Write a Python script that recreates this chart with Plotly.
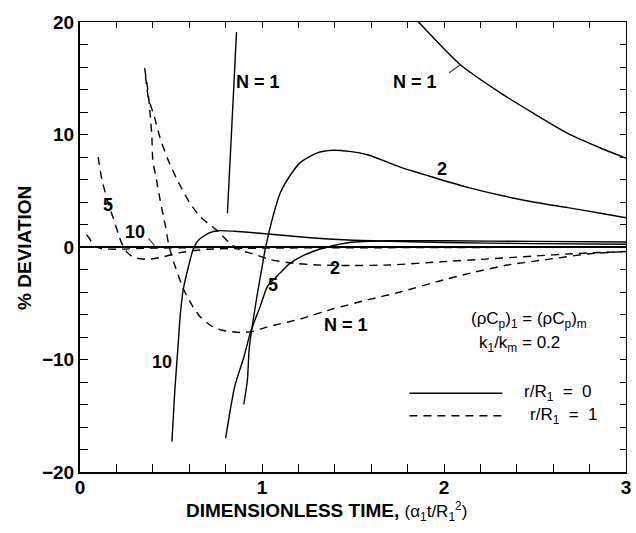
import plotly.graph_objects as go

# ---------------- data ----------------
# r/R1 = 0  (solid)
n1_solid_a_x = [0.81, 0.835, 0.86]
n1_solid_a_y = [3.0, 11.0, 19.1]
n1_solid_b_x = [1.86, 2.09, 2.31, 2.49, 2.68, 2.86, 3.0]
n1_solid_b_y = [20.0, 16.2, 13.7, 11.9, 10.1, 8.8, 7.9]

n2_solid_x = [0.90, 0.92, 0.93, 0.97, 1.0, 1.02, 1.06, 1.10, 1.14, 1.21, 1.30, 1.39, 1.48, 1.58, 1.76, 1.94, 2.13, 2.31, 2.49, 2.68, 2.86, 3.0]
n2_solid_y = [-14.0, -11.8, -9.0, -4.6, -1.8, 0.0, 2.7, 4.8, 6.0, 7.5, 8.35, 8.6, 8.5, 8.2, 7.1, 6.2, 5.3, 4.6, 4.0, 3.5, 3.0, 2.6]

n5_solid_x = [0.80, 0.85, 0.90, 0.94, 0.99, 1.03, 1.10, 1.15, 1.21, 1.28, 1.36, 1.48, 1.7, 2.0, 2.5, 3.0]
n5_solid_y = [-17.0, -12.4, -9.8, -7.4, -5.3, -3.5, -2.3, -1.5, -0.9, -0.4, 0.0, 0.4, 0.55, 0.55, 0.5, 0.45]

n10_solid_x = [0.505, 0.52, 0.54, 0.55, 0.567, 0.595, 0.62, 0.65, 0.71, 0.76, 0.85, 1.0, 1.25, 1.5, 2.0, 2.5, 3.0]
n10_solid_y = [-17.3, -13.0, -8.5, -6.2, -3.8, -1.8, -0.3, 0.6, 1.25, 1.45, 1.4, 1.2, 0.85, 0.6, 0.4, 0.3, 0.25]

# r/R1 = 1  (dashed)
n1_dash_x = [0.355, 0.374, 0.385, 0.395, 0.40, 0.42, 0.44, 0.47, 0.49, 0.52, 0.57, 0.62, 0.66, 0.72, 0.78, 0.88, 0.95, 1.03, 1.21, 1.39, 1.58, 1.76, 1.98, 2.15, 2.35, 2.57, 2.80, 3.0]
n1_dash_y = [15.9, 13.8, 11.9, 9.8, 7.7, 6.0, 4.2, 1.8, 0.0, -1.6, -3.8, -5.3, -6.2, -7.0, -7.4, -7.6, -7.5, -7.1, -6.4, -5.5, -4.7, -4.0, -3.0, -2.3, -1.6, -1.1, -0.6, -0.4]

n2_dash_x = [0.36, 0.375, 0.41, 0.44, 0.48, 0.53, 0.60, 0.66, 0.75, 0.82, 0.88, 0.95, 1.04, 1.15, 1.30, 1.50, 1.70, 2.0, 2.2, 2.5, 2.7, 3.0]
n2_dash_y = [15.2, 13.3, 11.5, 9.7, 7.9, 6.1, 4.0, 2.7, 1.5, 0.4, -0.3, -0.6, -1.1, -1.4, -1.6, -1.65, -1.6, -1.3, -1.1, -0.8, -0.6, -0.4]

n5_dash_x = [0.10, 0.12, 0.15, 0.18, 0.21, 0.23, 0.26, 0.30, 0.37, 0.45, 0.55, 0.70, 1.0, 2.0, 3.0]
n5_dash_y = [8.0, 6.0, 4.2, 2.7, 1.2, 0.3, -0.5, -0.95, -1.1, -0.9, -0.5, -0.2, -0.1, -0.05, 0.0]

n10_dash_x = [0.035, 0.05, 0.065, 0.085, 0.12, 0.2, 0.4, 0.7, 1.0, 3.0]
n10_dash_y = [1.1, 0.8, 0.4, 0.05, -0.15, -0.2, -0.1, -0.05, 0.0, 0.0]

x_ticks = [0, 1, 2, 3]
y_ticks = [-20, -10, 0, 10, 20]

FONT = "Liberation Sans, Arial, Helvetica, sans-serif"
LW = 1.4
DASH = "8px,6px"
NB = "\u00a0"

fig = go.Figure()

def add(x, y, dash=None):
    fig.add_trace(go.Scatter(
        x=x, y=y, mode="lines", showlegend=False, hoverinfo="skip",
        line=dict(color="black", width=LW, dash=dash, shape="spline", smoothing=0.6),
        cliponaxis=True))

add(n1_solid_a_x, n1_solid_a_y)
add(n1_solid_b_x, n1_solid_b_y)
add(n2_solid_x, n2_solid_y)
add(n5_solid_x, n5_solid_y)
add(n10_solid_x, n10_solid_y)
add(n1_dash_x, n1_dash_y, DASH)
add(n2_dash_x, n2_dash_y, DASH)
add(n5_dash_x, n5_dash_y, DASH)
add(n10_dash_x, n10_dash_y, DASH)

# overlay axes for top/right ticks
fig.add_trace(go.Scatter(x=[0], y=[0], xaxis="x2", yaxis="y2", mode="markers",
                         marker=dict(opacity=0), showlegend=False, hoverinfo="skip"))

lab = dict(size=18, color="black", family=FONT, weight="bold")
def label(text, x, y, **kw):
    fig.add_annotation(x=x, y=y, text=text, showarrow=False, font=lab, **kw)

label("N = 1", 0.98, 14.7)
label("N = 1", 1.84, 14.7)
label("2", 1.99, 6.9)
label("5", 1.06, -3.4)
label("10", 0.45, -10.2)
label("5", 0.155, 3.7)
label("2", 1.40, -1.9)
label("N = 1", 1.46, -6.9)
label("10", 0.30, 1.3)

# leader lines
fig.add_annotation(x=2.09, y=16.2, ax=2.02, ay=15.4, axref="x", ayref="y",
                   showarrow=True, arrowhead=0, arrowwidth=1.2, text="", standoff=0)
fig.add_annotation(x=0.41, y=0.1, ax=0.37, ay=0.9, axref="x", ayref="y",
                   showarrow=True, arrowhead=0, arrowwidth=1.2, text="", standoff=0)

small = dict(size=17, color="black", family=FONT)
fig.add_annotation(x=2.14, y=-6.5, xanchor="left", showarrow=False, font=small,
                   text="(ρC<sub>p</sub>)<sub>1</sub>" + NB + "=" + NB + "(ρC<sub>p</sub>)<sub>m</sub>")
fig.add_annotation(x=2.18, y=-8.6, xanchor="left", showarrow=False, font=small,
                   text="k<sub>1</sub>/k<sub>m</sub>" + NB + "=" + NB + "0.2")
fig.add_annotation(x=2.43, y=-13.0, xanchor="left", showarrow=False, font=small,
                   text="r/R<sub>1</sub>" + NB * 2 + "=" + NB * 2 + "0")
fig.add_annotation(x=2.46, y=-15.0, xanchor="left", showarrow=False, font=small,
                   text="r/R<sub>1</sub>" + NB * 2 + "=" + NB * 2 + "1")
fig.add_shape(type="line", x0=1.81, x1=2.32, y0=-13.0, y1=-13.0, xref="x", yref="y",
              line=dict(color="black", width=LW))
fig.add_shape(type="line", x0=1.81, x1=2.32, y0=-15.0, y1=-15.0, xref="x", yref="y",
              line=dict(color="black", width=LW, dash=DASH))

tickfont = dict(size=19, color="black", family=FONT, weight="bold")
titlefont = dict(size=19, color="black", family=FONT, weight="bold")

# axis titles as annotations for exact placement
fig.add_annotation(xref="paper", yref="paper", x=0.1905, y=-0.087, xanchor="left", yanchor="middle",
                   showarrow=False, font=titlefont,
                   text="DIMENSIONLESS TIME, <span style='font-size:17px;font-weight:normal'>(α<sub>1</sub>t/R<sub>1</sub><sup>2</sup>)</span>")
fig.add_annotation(xref="paper", yref="paper", x=-0.1007, y=0.498, xanchor="center", yanchor="middle",
                   showarrow=False, font=titlefont, textangle=-90, text="% DEVIATION")

fig.update_layout(
    width=636, height=533,
    margin=dict(l=80, r=10, t=22, b=61, autoexpand=False),
    paper_bgcolor="white", plot_bgcolor="white",
    xaxis=dict(range=[0, 3], tickvals=x_ticks, ticks="inside", ticklen=8, tickwidth=1.2,
               tickcolor="black", showline=True, linecolor="black", linewidth=2,
               showgrid=False, zeroline=False, tickfont=tickfont, automargin=False,
               ticklabelstandoff=-3,
               minor=dict(dtick=0.2, ticks="inside", ticklen=8, tickwidth=1.2, tickcolor="black", showgrid=False)),
    yaxis=dict(range=[-20, 20], tickvals=y_ticks, ticks="inside", ticklen=8, tickwidth=1.2,
               tickcolor="black", showline=True, linecolor="black", linewidth=2,
               showgrid=False, zeroline=True, zerolinecolor="black", zerolinewidth=1.6,
               tickfont=tickfont, automargin=False,
               minor=dict(dtick=2, ticks="inside", ticklen=8, tickwidth=1.2, tickcolor="black", showgrid=False)),
    xaxis2=dict(range=[0, 3], overlaying="x", side="top", anchor="y2", tickvals=x_ticks,
                ticks="inside", ticklen=6, tickwidth=1.2, tickcolor="black", showticklabels=False,
                showline=True, linecolor="black", linewidth=1, showgrid=False, zeroline=False,
                automargin=False,
                minor=dict(dtick=0.2, ticks="inside", ticklen=6, tickwidth=1.2, tickcolor="black", showgrid=False)),
    yaxis2=dict(range=[-20, 20], overlaying="y", side="right", anchor="x2", tickvals=y_ticks,
                ticks="inside", ticklen=6, tickwidth=1.2, tickcolor="black", showticklabels=False,
                showline=True, linecolor="black", linewidth=1, showgrid=False, zeroline=False,
                automargin=False,
                minor=dict(dtick=2, ticks="inside", ticklen=6, tickwidth=1.2, tickcolor="black", showgrid=False)),
)

fig.write_html("out.html")
